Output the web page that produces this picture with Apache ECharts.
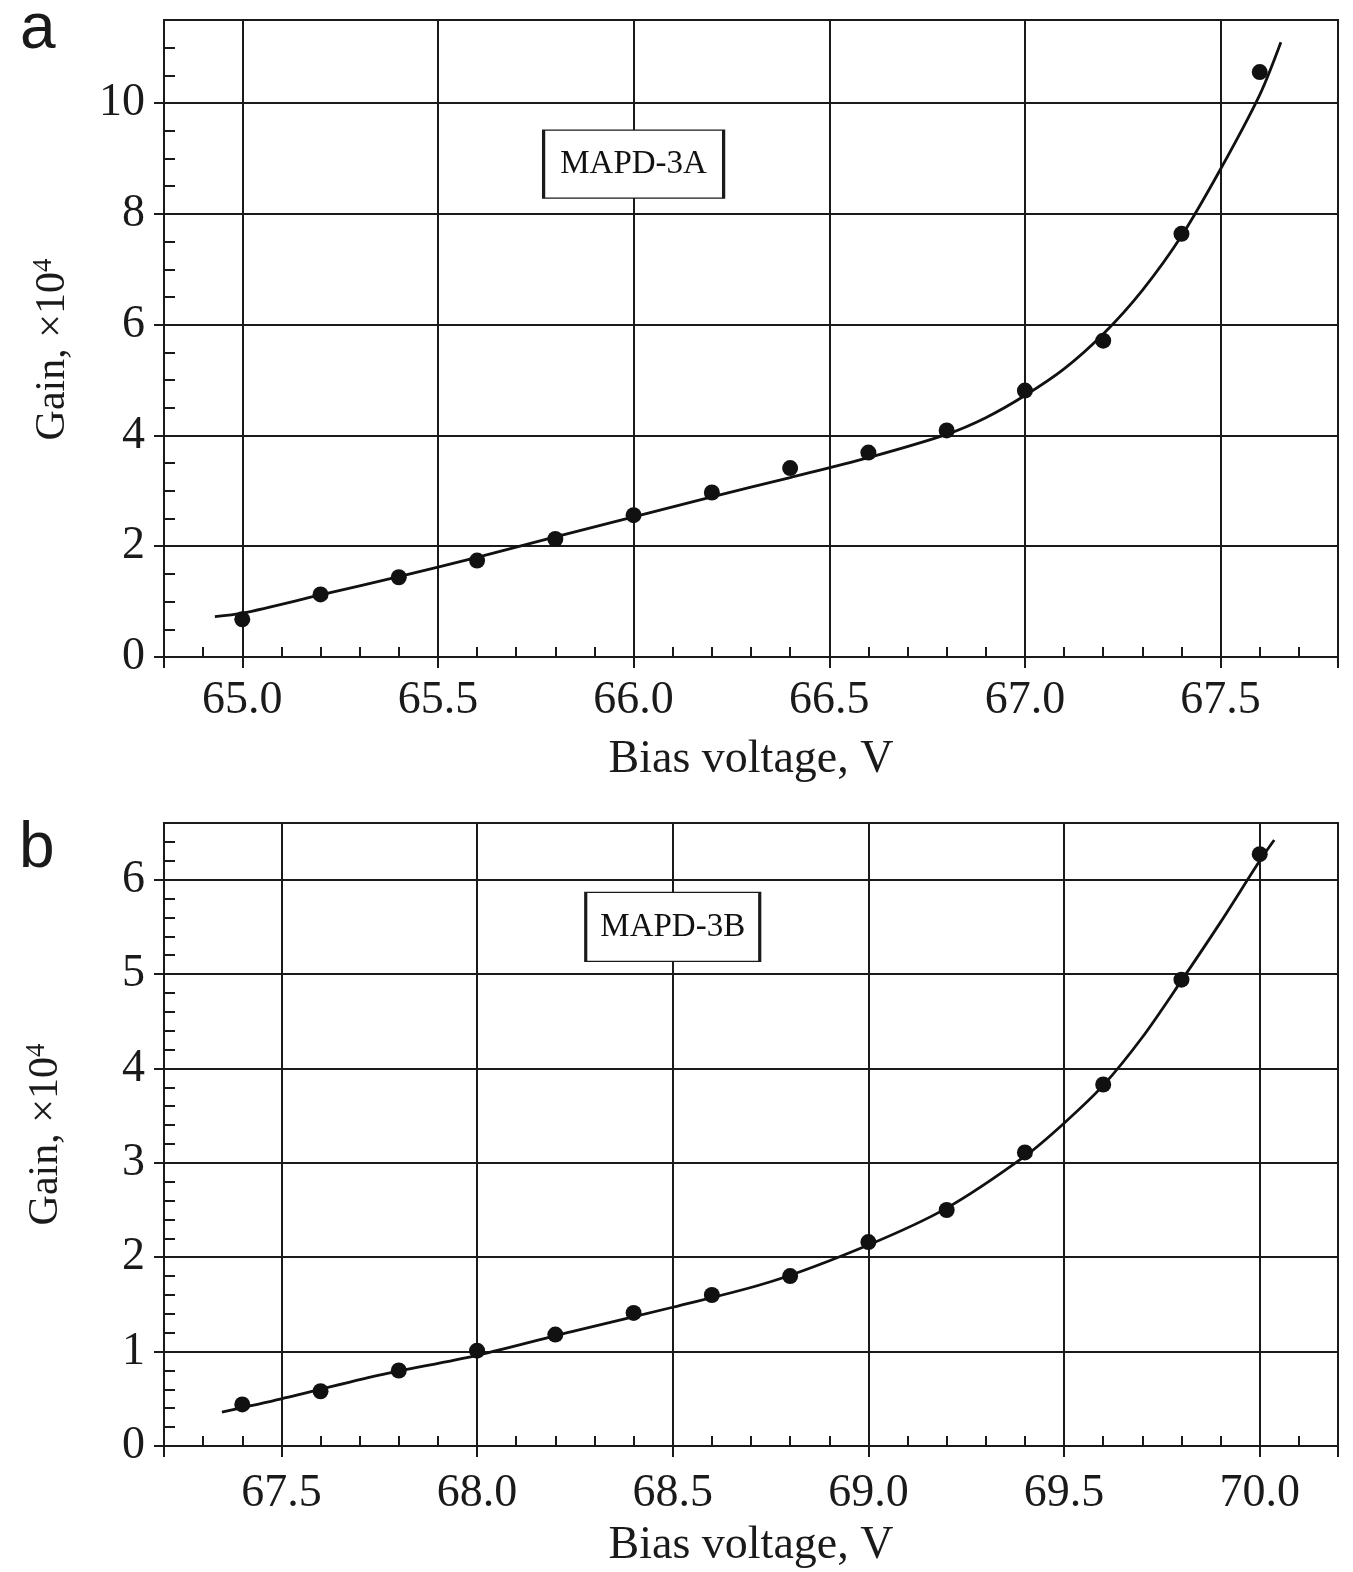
<!DOCTYPE html>
<html>
<head>
<meta charset="utf-8">
<script src="https://cdn.jsdelivr.net/npm/echarts@6/dist/echarts.min.js"></script>
<style>
html,body{margin:0;padding:0;background:#fff}
#chart{width:1353px;height:1572px}
</style>
</head>
<body>
<div id="chart"></div>
<script>
// panel a - MAPD-3A, measured points
var voltA = [65.0, 65.2, 65.4, 65.6, 65.8, 66.0, 66.2, 66.4, 66.6, 66.8, 67.0, 67.2, 67.4, 67.6];
var gainA = [0.68, 1.13, 1.44, 1.74, 2.13, 2.56, 2.97, 3.41, 3.69, 4.09, 4.81, 5.71, 7.64, 10.56];
// panel a - fitted curve
var fitVoltA = [64.93, 65.0, 65.2, 65.4, 65.6, 65.8, 66.0, 66.2, 66.4, 66.6, 66.8, 66.9, 67.0, 67.1, 67.2, 67.3, 67.4, 67.5, 67.6, 67.654];
var fitGainA = [0.73, 0.79, 1.12, 1.45, 1.80, 2.17, 2.53, 2.89, 3.24, 3.60, 4.02, 4.32, 4.72, 5.20, 5.83, 6.62, 7.60, 8.81, 10.15, 11.10];

// panel b - MAPD-3B
var voltB = [67.4, 67.6, 67.8, 68.0, 68.2, 68.4, 68.6, 68.8, 69.0, 69.2, 69.4, 69.6, 69.8, 70.0];
var gainB = [0.44, 0.58, 0.80, 1.01, 1.18, 1.41, 1.60, 1.80, 2.16, 2.50, 3.11, 3.83, 4.94, 6.27];
var fitVoltB = [67.348, 67.5, 67.75, 68.0, 68.25, 68.5, 68.75, 69.0, 69.2, 69.4, 69.5, 69.6, 69.7, 69.8, 69.9, 70.0, 70.037];
var fitGainB = [0.36, 0.50, 0.75, 0.96, 1.22, 1.47, 1.74, 2.13, 2.52, 3.07, 3.42, 3.82, 4.33, 4.93, 5.55, 6.20, 6.42];

// ticks / labels
var xTicksA = [64.8, 65.0, 65.5, 66.0, 66.5, 67.0, 67.5, 67.8];
var xLabelsA = [65.0, 65.5, 66.0, 66.5, 67.0, 67.5];
var yTicksA = [0, 2, 4, 6, 8, 10];
var xTicksB = [67.2, 67.5, 68.0, 68.5, 69.0, 69.5, 70.0, 70.2];
var xLabelsB = [67.5, 68.0, 68.5, 69.0, 69.5, 70.0];
var yTicksB = [0, 1, 2, 3, 4, 5, 6];

var labelA = 'MAPD-3A', labelB = 'MAPD-3B';
var xName = 'Bias voltage, V';

var serif = '"Liberation Serif", "Times New Roman", serif';
var ink = '#1a1a1a';

function zip(xs, ys) {
	var out = [];
	for (var i = 0; i < xs.length; i++) out.push([xs[i], ys[i]]);
	return out;
}

function mainX(g, min, max, ticks, labels, gap, margin) {
	return {
		type: 'value', gridIndex: g, min: min, max: max, position: 'bottom',
		name: xName, nameLocation: 'middle', nameGap: gap,
		nameTextStyle: {fontFamily: serif, fontSize: 46, color: ink},
		axisLine: {show: true, lineStyle: {color: ink, width: 2}},
		axisTick: {show: true, inside: false, length: 11, customValues: ticks, lineStyle: {color: ink, width: 2}},
		axisLabel: {customValues: labels, margin: margin, fontFamily: serif, fontSize: 46, color: ink,
			formatter: function (v) { return v.toFixed(1); }},
		splitLine: {show: true, lineStyle: {color: ink, width: 2}}
	};
}
function minorX(g, min, max, step) {
	return {
		type: 'value', gridIndex: g, min: min, max: max, interval: step, position: 'bottom',
		axisLine: {show: false}, axisLabel: {show: false}, splitLine: {show: false},
		axisTick: {show: true, inside: true, length: 10, lineStyle: {color: ink, width: 2}}
	};
}
function mainY(g, min, max, ticks, gap, pad) {
	return {
		type: 'value', gridIndex: g, min: min, max: max, position: 'left',
		name: '{n|Gain, ×10}{s|4}', nameLocation: 'middle', nameGap: gap,
		nameTextStyle: {padding: pad, rich: {
			n: {fontFamily: serif, fontSize: 42, color: ink, lineHeight: 46},
			s: {fontFamily: serif, fontSize: 27, color: ink, verticalAlign: 'top', lineHeight: 27}
		}},
		axisLine: {show: true, lineStyle: {color: ink, width: 2}},
		axisTick: {show: true, inside: false, length: 10, customValues: ticks, lineStyle: {color: ink, width: 2}},
		axisLabel: {customValues: ticks, margin: 19, fontFamily: serif, fontSize: 46, color: ink},
		splitLine: {show: true, lineStyle: {color: ink, width: 2}}
	};
}
function minorY(g, min, max, step) {
	return {
		type: 'value', gridIndex: g, min: min, max: max, interval: step, position: 'left',
		axisLine: {show: false}, axisLabel: {show: false}, splitLine: {show: false},
		axisTick: {show: true, inside: true, length: 11, lineStyle: {color: ink, width: 2}}
	};
}
function fitSeries(ax, xs, ys) {
	return {
		type: 'line', xAxisIndex: ax, yAxisIndex: ax, data: zip(xs, ys),
		smooth: 0.3, showSymbol: false, silent: true, z: 3,
		lineStyle: {color: '#111', width: 2.8}
	};
}
function dotSeries(ax, xs, ys, boxAt, boxSize, text) {
	return {
		type: 'scatter', xAxisIndex: ax, yAxisIndex: ax, data: zip(xs, ys),
		symbolSize: 16, itemStyle: {color: '#111', opacity: 1}, z: 4,
		markPoint: {
			symbol: 'rect', symbolSize: boxSize, silent: true,
			itemStyle: {color: '#fff', borderColor: ink, borderWidth: 2, opacity: 1},
			label: {show: true, formatter: text, fontFamily: serif, fontSize: 33, color: '#111'},
			data: [{coord: boxAt}]
		}
	};
}

var myChart = echarts.init(document.getElementById('chart'));
var option = {
	backgroundColor: '#fff',
	animation: false,
	grid: [
		{left: 164, top: 20, width: 1174, height: 637, show: true, borderColor: ink, borderWidth: 2},
		{left: 164, top: 823, width: 1174, height: 623, show: true, borderColor: ink, borderWidth: 2}
	],
	xAxis: [
		mainX(0, 64.8, 67.8, xTicksA, xLabelsA, 80, 21),
		mainX(1, 67.2, 70.2, xTicksB, xLabelsB, 77, 25),
		minorX(0, 64.8, 67.8, 0.1),
		minorX(1, 67.2, 70.2, 0.1)
	],
	yAxis: [
		mainY(0, 0, 11.5, yTicksA, 88, [0, 22, 0, 0]),
		mainY(1, 0, 6.6, yTicksB, 95, [0, 0, 0, 0]),
		minorY(0, 0, 11.5, 0.5),
		minorY(1, 0, 6.6, 0.2)
	],
	graphic: [
		{type: 'text', left: 20, top: -2, style: {text: 'a', font: '64px "Liberation Sans", Arial, sans-serif', fill: ink}},
		{type: 'text', left: 19, top: 817, style: {text: 'b', font: '64px "Liberation Sans", Arial, sans-serif', fill: ink}}
	],
	series: [
		fitSeries(0, fitVoltA, fitGainA),
		dotSeries(0, voltA, gainA, [66.0, 8.9], [180, 68], labelA),
		fitSeries(1, fitVoltB, fitGainB),
		dotSeries(1, voltB, gainB, [68.5, 5.5], [174, 69], labelB)
	]
};
myChart.setOption(option);
</script>
</body>
</html>
